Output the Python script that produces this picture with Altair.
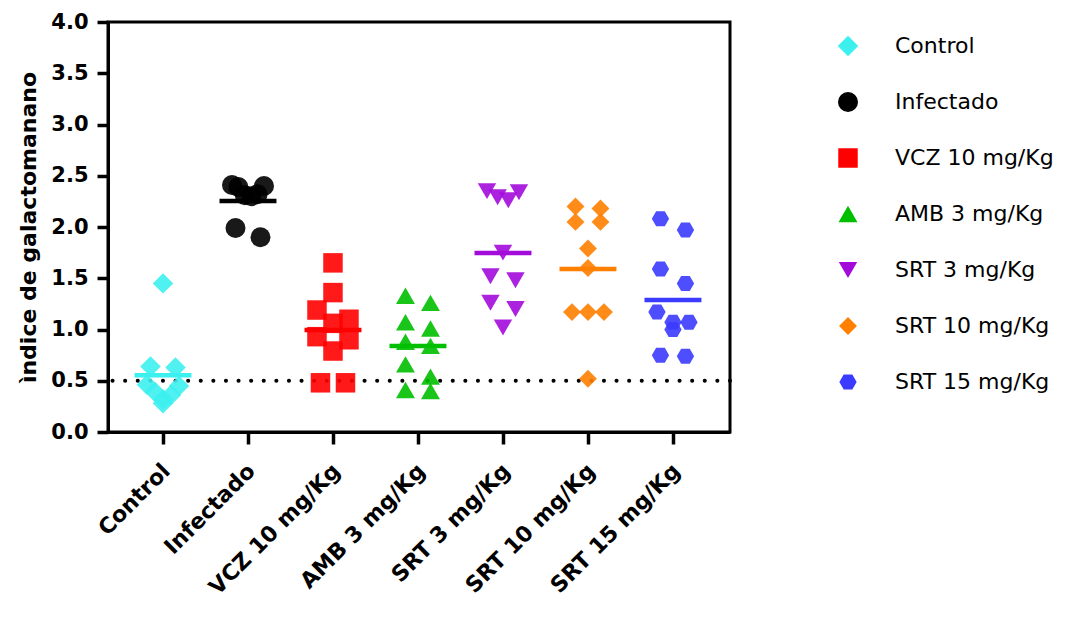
import altair as alt
import pandas as pd

# Groups in plotting order
groups = ["Control", "Infectado", "VCZ 10 mg/Kg", "AMB 3 mg/Kg",
          "SRT 3 mg/Kg", "SRT 10 mg/Kg", "SRT 15 mg/Kg"]

# Galactomannan index per animal
control = [1.45, 0.64, 0.63, 0.46, 0.45, 0.39, 0.36, 0.32, 0.28]
infectado = [2.41, 2.40, 2.39, 2.32, 2.31, 2.30, 1.99, 1.90]
vcz10 = [1.65, 1.36, 1.19, 1.10, 1.06, 0.93, 0.90, 0.79, 0.48, 0.48]
amb3 = [1.33, 1.26, 1.07, 1.01, 0.88, 0.84, 0.66, 0.54, 0.41, 0.40]
srt3 = [2.35, 2.34, 2.29, 2.26, 1.75, 1.52, 1.48, 1.26, 1.20, 1.02]
srt10 = [2.20, 2.18, 2.05, 2.05, 1.79, 1.60, 1.17, 1.17, 1.17, 0.52]
srt15 = [2.08, 1.97, 1.59, 1.45, 1.17, 1.07, 1.07, 1.00, 0.75, 0.74]
series = [control, infectado, vcz10, amb3, srt3, srt10, srt15]

colors = ["#3CF0F0", "#000000", "#FF0000", "#00BF00", "#A30BDB", "#FF8000", "#3B3BFF"]
hexagon = "M-1,0L-0.5,-0.866L0.5,-0.866L1,0L0.5,0.866L-0.5,0.866Z"
shapes = ["diamond", "circle", "square", "triangle-up", "triangle-down", "diamond", hexagon]
sizes = [420, 300, 324, 313, 313, 324, 300]

W, H = 622, 410
X_LO, X_HI = 0.353, 7.671
PX_X = W / (X_HI - X_LO)   # pixels per category step
PX_Y = H / 4.0             # pixels per index unit
ROW_H = 15.0               # points closer than this (px) share a row


def spread(vals):
    """Scatter-dot layout: group close values into rows, spread each row sideways."""
    order = sorted(range(len(vals)), key=lambda i: -vals[i])
    rows, cur = [], []
    for i in order:
        if cur and (vals[cur[0]] - vals[i]) * PX_Y >= ROW_H:
            rows.append(cur)
            cur = []
        cur.append(i)
    rows.append(cur)
    offs = [0.0] * len(vals)
    for row in rows:
        k = len(row)
        if k == 1:
            continue
        span = 25.0 if k == 2 else 32.0
        gap = span / (k - 1)
        slots = [-span / 2 + j * gap for j in range(k)]
        # outermost slots first (left, then right), lowest value ends nearest the centre
        slots.sort(key=lambda s: (-abs(round(s, 6)), s))
        for i, s in zip(row, slots):
            offs[i] = s
    return offs


rows = []
for gi, (g, vals) in enumerate(zip(groups, series)):
    for v, o in zip(vals, spread(vals)):
        rows.append({"group": g, "idx": gi + 1, "value": v, "xpos": gi + 1 + o / PX_X})
df = pd.DataFrame(rows)

label_expr = "[" + ",".join("'%s'" % g for g in groups) + "][datum.value - 1]"

x_scale = alt.Scale(domain=[X_LO, X_HI], nice=False, zero=False)
y_scale = alt.Scale(domain=[0, 4], nice=False)
color_scale = alt.Scale(domain=groups, range=colors)
shape_scale = alt.Scale(domain=groups, range=shapes)
size_scale = alt.Scale(domain=groups, range=sizes)

x_axis = alt.Axis(values=list(range(1, 8)), labelExpr=label_expr, title=None,
                  labelAngle=-45, labelAlign="right", labelBaseline="middle",
                  labelOverlap=False, labelBound=False,
                  labelFont="DejaVu Sans", labelFontWeight="bold", labelFontSize=22,
                  labelPadding=23, labelOffset=3, tickSize=12, labelColor="black")
y_axis = alt.Axis(values=[0, 0.5, 1, 1.5, 2, 2.5, 3, 3.5, 4], format=".1f",
                  title="ìndice de galactomanano",
                  titleFont="DejaVu Sans", titleFontWeight="bold", titleFontSize=22,
                  titleX=-80, titleY=H / 2, titleAngle=-90, titleAlign="center",
                  titleBaseline="middle", titleColor="black",
                  labelFont="DejaVu Sans", labelFontWeight="bold", labelFontSize=21,
                  labelPadding=9, tickSize=11, labelColor="black")

legend = alt.Legend(
    title=None, orient="none", legendX=729, legendY=13, padding=0,
    labelFont="DejaVu Sans", labelFontSize=22, labelColor="black",
    labelOffset=36, rowPadding=34, symbolStrokeWidth=0, symbolOpacity=1)

base = alt.Chart(df)

# dotted reference line at 0.5
cutoff = alt.Chart(pd.DataFrame({"cut": [0.5]})).mark_rule(
    color="black", strokeWidth=4, strokeDash=[0.1, 12.5], strokeCap="round"
).encode(y=alt.Y("cut:Q", scale=y_scale, axis=y_axis))

points = base.mark_point(filled=True, opacity=0.9, strokeWidth=0).encode(
    x=alt.X("xpos:Q", scale=x_scale, axis=x_axis),
    y=alt.Y("value:Q", scale=y_scale, axis=y_axis),
    color=alt.Color("group:N", scale=color_scale, legend=legend),
    shape=alt.Shape("group:N", scale=shape_scale, legend=legend),
    size=alt.Size("group:N", scale=size_scale, legend=legend),
)

# group means
means = base.transform_aggregate(
    mean="mean(value)", groupby=["group", "idx"]
).transform_calculate(
    x1="datum.idx - 0.335", x2="datum.idx + 0.335"
).mark_rule(strokeWidth=4.5).encode(
    x=alt.X("x1:Q", scale=x_scale, axis=x_axis),
    x2="x2:Q",
    y=alt.Y("mean:Q", scale=y_scale, axis=y_axis),
    color=alt.Color("group:N", scale=color_scale, legend=None),
)

chart = alt.layer(cutoff, points, means).properties(
    width=W, height=H,
    autosize=alt.AutoSizeParams(type="none"),
    padding={"left": 108, "top": 22, "right": 1085 - 108 - W, "bottom": 618 - 22 - H},
).configure_view(
    stroke="black", strokeWidth=3
).configure_axis(
    grid=False, domainColor="black", domainWidth=3,
    tickColor="black", tickWidth=3.5,
)

chart.save("out.html", embed_options={"renderer": "svg", "actions": False})
